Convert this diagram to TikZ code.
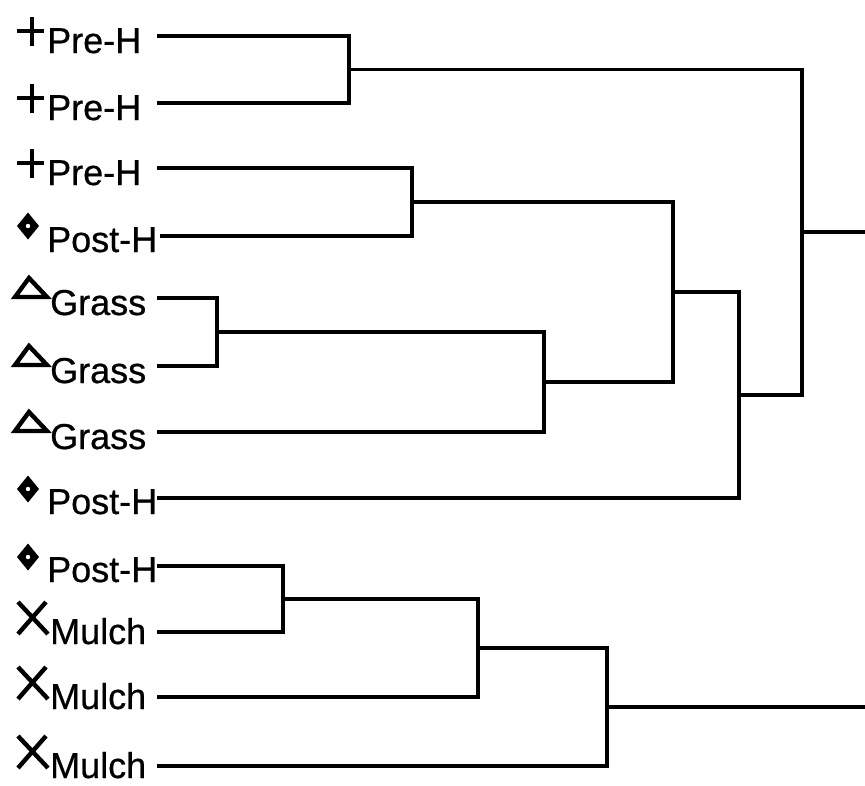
\documentclass[tikz,border=0pt]{standalone}
\usepackage{fontspec}
\setmainfont[FakeBold=0.6]{Liberation Sans}
\begin{document}
\begin{tikzpicture}[x=1pt,y=-1pt,
  link/.style={line width=3.3pt, line join=miter},
  sym/.style={line width=4.4pt},
  lab/.style={anchor=base west, inner sep=0pt, font=\fontsize{36}{40}\selectfont},
  plussym/.pic={\draw[sym] (-15,-5) -- (12,-5) (0,-19) -- (0,10);},
  diasym/.pic={\fill (0,-13.5) -- (11,0) -- (0,13.5) -- (-11,0) -- cycle; \fill[white] (0,0) circle (2.2);},
  trisym/.pic={\draw[sym, line join=miter] (-14,0) -- (0,-19) -- (18,0) -- cycle;},
  xsym/.pic={\draw[sym] (-14,-16) -- (16,16) (14,-16) -- (-14,16);}
]
\useasboundingbox (0,0) rectangle (865,785);
% leaf line starts
\coordinate (l1) at (157,36);
\coordinate (l2) at (157,103);
\coordinate (l3) at (157,168);
\coordinate (l4) at (160,236);
\coordinate (l5) at (157,298);
\coordinate (l6) at (157,366);
\coordinate (l7) at (157,432);
\coordinate (l8) at (157,498);
\coordinate (l9) at (157,566);
\coordinate (l10) at (157,632);
\coordinate (l11) at (157,697);
\coordinate (l12) at (157,766);
% labels
\pic at (32,36) {plussym};   \node[lab] (t1) at (47,53) {Pre-H};
\pic at (32,103) {plussym};  \node[lab] (t2) at (47,120) {Pre-H};
\pic at (32,168) {plussym};  \node[lab] (t3) at (47,185) {Pre-H};
\pic at (28,226) {diasym};   \node[lab] (t4) at (47,252) {Post-H};
\pic at (29,297) {trisym};   \node[lab] (t5) at (50,315) {Grass};
\pic at (29,365) {trisym};   \node[lab] (t6) at (50,383) {Grass};
\pic at (29,431) {trisym};   \node[lab] (t7) at (50,449) {Grass};
\pic at (28,489) {diasym};   \node[lab] (t8) at (47,514) {Post-H};
\pic at (28,557) {diasym};   \node[lab] (t9) at (47,582) {Post-H};
\pic at (32,618) {xsym};     \node[lab] (t10) at (50,644) {Mulch};
\pic at (32,683) {xsym};     \node[lab] (t11) at (50,709) {Mulch};
\pic at (32,752) {xsym};     \node[lab] (t12) at (50,778) {Mulch};
% junctions
\coordinate (a) at (349,69.5);
\coordinate (b) at (412,202);
\coordinate (c) at (217,332);
\coordinate (d) at (544,382);
\coordinate (e) at (673,292);
\coordinate (f) at (739,395);
\coordinate (g) at (802,232);
\coordinate (h) at (283,599);
\coordinate (i) at (478,648);
\coordinate (j) at (607,707);
\coordinate (outg) at (865,232);
\coordinate (outj) at (865,707);
% connectors
\draw[link] (l1) -| (a) |- (l2);
\draw[link] (l3) -| (b) |- (l4);
\draw[link] (l5) -| (c) |- (l6);
\draw[link] (c) -| (d) |- (l7);
\draw[link] (b) -| (e) |- (d);
\draw[link] (e) -| (f) |- (l8);
\draw[link] (a) -| (g) |- (f);
\draw[link] (g) -- (outg);
\draw[link] (l9) -| (h) |- (l10);
\draw[link] (h) -| (i) |- (l11);
\draw[link] (i) -| (j) |- (l12);
\draw[link] (j) -- (outj);
\end{tikzpicture}
\end{document}
